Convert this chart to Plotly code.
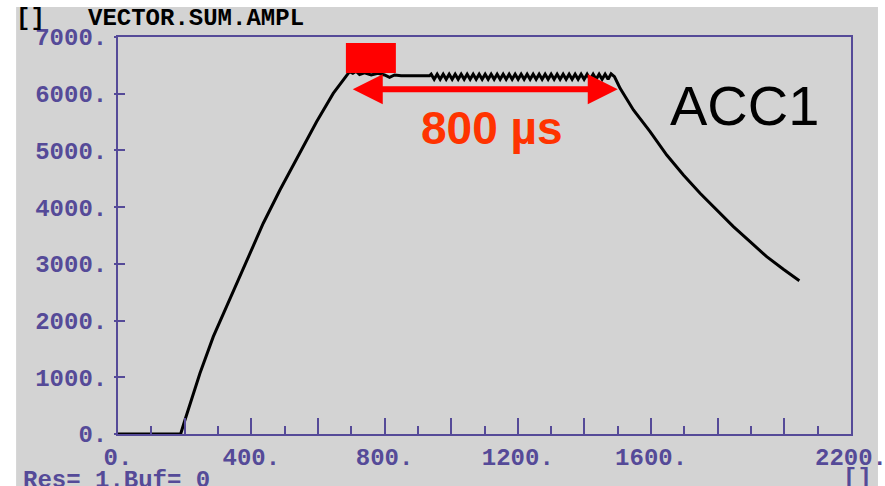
import plotly.graph_objects as go

# ---- data ----
time_us = [0, 188, 200, 216, 246, 286, 356, 386, 436, 486, 536, 596, 646, 686,
           695, 705, 715, 725, 740, 760, 780, 800, 815, 830, 850, 900, 935,
           940, 949, 958, 967, 976, 985, 994, 1003, 1012, 1021, 1030, 1039, 1048, 1057,
           1066, 1075, 1084, 1093, 1102, 1111, 1120, 1129, 1138, 1147, 1156, 1165, 1174,
           1183, 1192, 1201, 1210, 1219, 1228, 1237, 1246, 1255, 1264, 1273, 1282, 1291,
           1300, 1309, 1318, 1327, 1336, 1345, 1354, 1363, 1372, 1381, 1390, 1399, 1408,
           1417, 1426, 1435, 1444, 1453, 1462, 1471, 1480, 1490, 1500,
           1507, 1547, 1597, 1647, 1697, 1747, 1797, 1847, 1897, 1947, 1997, 2045]
amplitude = [0, 0, 230, 516, 1070, 1716, 2657, 3068, 3716, 4302, 4861, 5507, 6006, 6330,
             6390, 6360, 6395, 6340, 6370, 6330, 6360, 6330, 6290, 6330, 6315, 6315, 6315,
             6345, 6255, 6345, 6255, 6345, 6255, 6345, 6255, 6345, 6255, 6345, 6255, 6345, 6255,
             6345, 6255, 6345, 6255, 6345, 6255, 6345, 6255, 6345, 6255, 6345, 6255, 6345,
             6255, 6345, 6255, 6345, 6255, 6345, 6255, 6345, 6255, 6345, 6255, 6345, 6255,
             6345, 6255, 6345, 6255, 6345, 6255, 6345, 6255, 6345, 6255, 6345, 6255, 6345,
             6255, 6345, 6255, 6345, 6255, 6345, 6255, 6350, 6300, 6180,
             6095, 5713, 5330, 4919, 4567, 4244, 3950, 3656, 3391, 3126, 2904, 2703]

x_tickvals = [0, 200, 400, 600, 800, 1000, 1200, 1400, 1600, 1800, 2000, 2200]
x_ticktext = ["0.", "", "400.", "", "800.", "", "1200.", "", "1600.", "", "", "2200."]
x_minor_vals = [100, 300, 500, 700, 900, 1100, 1300, 1500, 1700, 1900, 2100]
y_tickvals = [0, 1000, 2000, 3000, 4000, 5000, 6000, 7000]
y_ticktext = ["0.", "1000.", "2000.", "3000.", "4000.", "5000.", "6000.", "7000."]

flat_top_span = [700, 1500]      # the 800 µs arrow
arrow_level = 6080
box_x = [684, 834]
box_y = [6365, 6894]

PURPLE = "#554a98"
GRAY = "#d3d3d3"
MONO = dict(family="Liberation Mono", size=24, color=PURPLE, weight="bold")

fig = go.Figure()
fig.add_trace(go.Scatter(x=time_us, y=amplitude, mode="lines",
                         line=dict(color="black", width=3), hoverinfo="skip",
                         showlegend=False))
fig.add_trace(go.Scatter(x=[], y=[], yaxis="y2", showlegend=False))

fig.update_layout(
    width=885, height=486,
    margin=dict(l=118, r=34, t=37, b=52, autoexpand=False),
    paper_bgcolor="white", plot_bgcolor=GRAY,
    xaxis=dict(range=[0, 2200], tickmode="array", tickvals=x_tickvals, ticktext=x_ticktext,
               ticks="inside", ticklen=16, tickwidth=2, tickcolor=PURPLE,
               minor=dict(tickmode="array", tickvals=x_minor_vals, ticks="inside",
                          ticklen=8, tickwidth=2, tickcolor=PURPLE, showgrid=False),
               showline=True, linecolor=PURPLE, linewidth=2, mirror=True,
               showgrid=False, zeroline=False, tickfont=MONO, ticklabelstandoff=0,
               ticklabeloverflow="allow", automargin=False),
    yaxis=dict(range=[0, 7000], tickmode="array", tickvals=y_tickvals, ticktext=y_ticktext,
               ticks="inside", ticklen=7, tickwidth=2, tickcolor=PURPLE,
               showline=True, linecolor=PURPLE, linewidth=2, mirror=True,
               showgrid=False, zeroline=False, tickfont=MONO, ticklabelstandoff=4,
               ticklabeloverflow="allow", automargin=False),
    yaxis2=dict(range=[0, 7000], overlaying="y", side="left", tickmode="array",
                tickvals=y_tickvals, ticktext=[""] * len(y_tickvals),
                ticks="outside", ticklen=3, tickwidth=2, tickcolor=PURPLE,
                showline=False, showgrid=False, zeroline=False, automargin=False),
)

# gray screen background (beyond plot area) with white border
fig.add_shape(type="rect", xref="paper", yref="paper", x0=-0.139, x1=1.0368,
              y0=-0.2, y1=1.0756, fillcolor=GRAY, line_width=0, layer="below")

# red highlight box
fig.add_shape(type="rect", xref="x", yref="y", x0=box_x[0], x1=box_x[1],
              y0=box_y[0], y1=box_y[1], fillcolor="#ff0000", line_width=0, layer="above")

# double arrow
fig.add_annotation(x=flat_top_span[1], y=arrow_level, ax=flat_top_span[0], ay=arrow_level,
                   xref="x", yref="y", axref="x", ayref="y", text="",
                   showarrow=True, arrowhead=2, startarrowhead=2, arrowside="end+start",
                   arrowsize=1, startarrowsize=1, arrowwidth=6, arrowcolor="#ff0000")

fig.add_annotation(x=1122, y=5395, xref="x", yref="y", text="<b>800 µs</b>", showarrow=False,
                   font=dict(family="Liberation Sans", size=46, color="#ff3300"))
fig.add_annotation(x=1879, y=5801, xref="x", yref="y", text="ACC1", showarrow=False,
                   font=dict(family="Liberation Sans", size=56, color="black"))

# screen texts
TXT = dict(family="Liberation Mono", size=24, weight="bold")

def px_ann(text, x_px, y_px, color, yanchor="middle"):
    fig.add_annotation(x=(x_px - 118) / 733, y=(434 - y_px) / 397, xref="paper", yref="paper",
                       text=text, showarrow=False, xanchor="left", yanchor=yanchor,
                       font=dict(TXT, color=color))

px_ann("[]", 14, 18, "black")
px_ann("VECTOR.SUM.AMPL", 86, 18, "black")
px_ann("Res= 1.Buf= 0", 21, 465, PURPLE, yanchor="top")
px_ann("[]", 841, 463, PURPLE, yanchor="top")

fig.write_html("out.html")
